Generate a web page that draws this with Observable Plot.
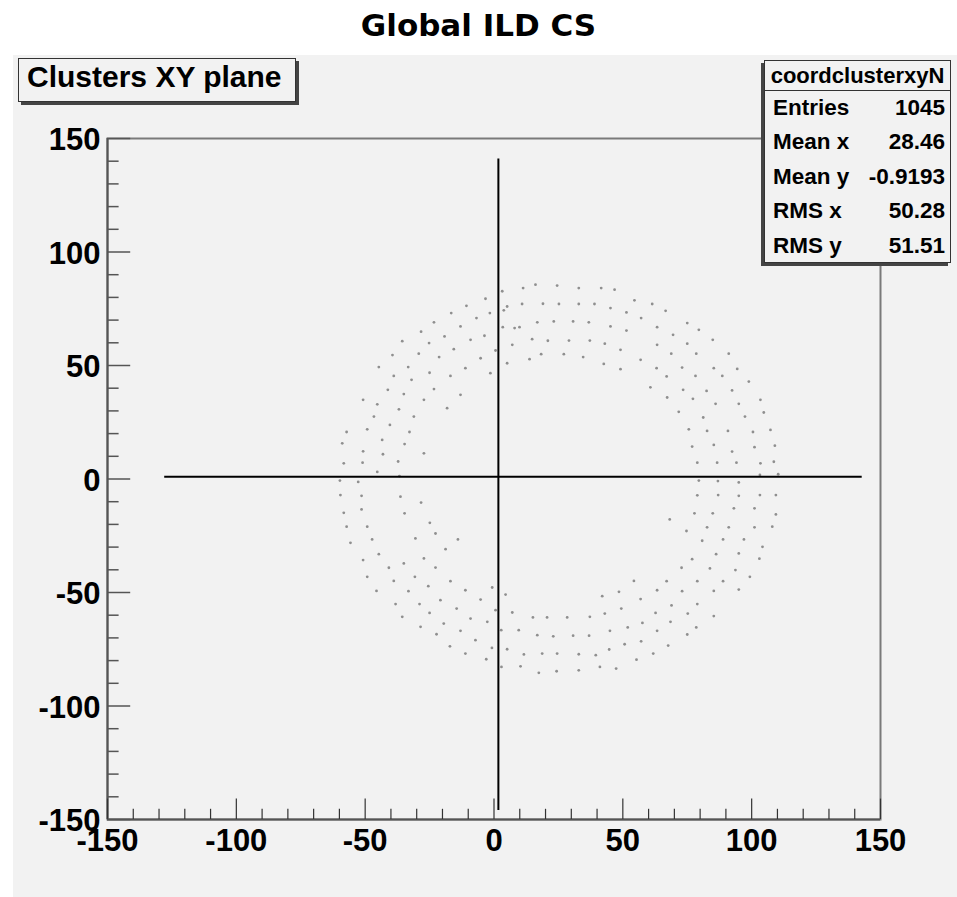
<!DOCTYPE html>
<html>
<head>
<meta charset="utf-8">
<script src="https://cdn.jsdelivr.net/npm/d3@7"></script>
<script src="https://cdn.jsdelivr.net/npm/@observablehq/plot@0.6"></script>
<style>
  html, body { margin: 0; padding: 0; background: #fff; }
  #page { position: relative; width: 957px; height: 897px; background: #fff; overflow: hidden; font-family: "Liberation Sans", Arial, Helvetica, sans-serif; }
  #title { position: absolute; left: 0; top: 10px; width: 957px; text-align: center; font-family: "DejaVu Sans", sans-serif; font-weight: bold; font-size: 31px; line-height: 31px; color: #000; }
  #pad { position: absolute; left: 13px; top: 55px; width: 944px; height: 842px; background: #f2f2f2; }
  #pad svg { display: block; }
  #histTitle { position: absolute; left: 18px; top: 58px; width: 278px; height: 44px; box-sizing: border-box; border: 1px solid #333; background: #f2f2f2; box-shadow: 3px 3px 0 #444; font-weight: bold; font-size: 30px; line-height: 36px; padding-left: 8px; color: #000; white-space: nowrap; }
  #stats { position: absolute; left: 764px; top: 60px; width: 187px; height: 203px; box-sizing: border-box; border: 1px solid #333; background: #f2f2f2; box-shadow: -3px 3px 0 #444; color: #000; font-weight: bold; }
  #stats .hdr { height: 30px; line-height: 30px; text-align: center; font-size: 22px; border-bottom: 1px solid #333; box-sizing: border-box; }
  #stats .row { height: 34.4px; line-height: 34.4px; font-size: 22.5px; display: flex; justify-content: space-between; padding: 0 5px 0 8px; }
</style>
</head>
<body>
<div id="page">
  <div id="title"></div>
  <div id="pad"></div>
  <div id="histTitle"></div>
  <div id="stats"></div>
</div>
<script>
// ---- texts ----
const pageTitle = "Global ILD CS";
const histTitle = "Clusters XY plane";
const statsName = "coordclusterxyN";
const statLabels = ["Entries", "Mean x", "Mean y", "RMS x", "RMS y"];
const statValues = ["1045", "28.46", "-0.9193", "50.28", "51.51"];

// ---- axes ----
const xDomain = [-150, 150];
const yDomain = [-150, 150];
const majorTicks = [-150, -100, -50, 0, 50, 100, 150];
const minorTicks = [-140, -130, -120, -110, -90, -80, -70, -60, -40, -30, -20, -10,
                    10, 20, 30, 40, 60, 70, 80, 90, 110, 120, 130, 140];

// ---- reference cross lines (data units) ----
const crossH = [{y: 1.0, x1: -127.8, x2: 142.9}];
const crossV = [{x: 1.7, y1: -146.0, y2: 141.0}];

// ---- cluster positions (x, y) ----
const upperLeft = [
  [-3.3,79.4],[-10.7,76.3],[-16.6,73.1],[-1.6,73.1],[-23.3,69.0],[-6.8,70.9],[-13.0,67.2],[-28.3,64.9],
  [-19.2,62.8],[-3.7,63.1],[-9.1,61.3],[-35.6,60.7],[-25.2,59.9],[-39.4,54.6],[-29.2,55.2],[-15.6,57.2],
  [-21.3,53.7],[-5.2,53.2],[-44.7,49.3],[-33.3,49.3],[-38.9,45.4],[-25.0,46.8],[-16.9,45.4],[-11.1,48.8],
  [-1.4,46.6],[-32.0,43.7],[-41.2,39.3],[-23.3,39.6],[-35.0,37.4],[-27.2,34.9],[-13.0,37.1],[-50.8,34.9],
  [-45.3,32.9],[-36.9,30.7],[-18.2,31.2],[-46.6,27.5],[-31.1,27.5],[-40.4,23.8],[-57.2,20.7],[-32.8,20.7],
  [-49.2,21.9],[-43.4,17.2],[-58.9,15.7],[-34.7,15.4],[-50.8,12.2],[-27.2,11.3],[-43.1,10.9],[-58.3,6.9],
  [-51.0,7.2],[-37.2,7.7],[-45.3,3.1],[-36.7,1.3],[-52.7,-1.3],[-59.8,-0.7]
];
const upperRight = [
  [3.2,82.7],[11.3,84.1],[16.1,85.6],[5.1,76.0],[10.9,77.1],[19.0,77.2],[3.8,74.3],[3.4,66.9],
  [8.0,66.5],[9.9,66.9],[16.8,69.0],[14.8,61.6],[7.1,59.1],[20.9,60.9],[18.3,55.0],[13.8,52.8],
  [5.1,51.0],[0.6,56.6],
  [24.5,85.2],[32.9,84.1],[41.6,84.1],[46.8,83.4],[25.2,77.1],[32.9,77.1],[39.0,77.1],[45.2,75.3],
  [54.5,78.7],[61.4,77.1],[51.4,73.4],[57.1,70.9],[66.6,74.1],[23.2,69.4],[30.7,69.4],[36.8,69.0],
  [45.2,67.2],[51.4,65.4],[63.3,66.9],[75.0,68.7],[79.5,65.7],[29.1,61.0],[37.2,61.0],[43.0,59.6],
  [49.1,56.9],[63.3,59.1],[69.5,63.5],[75.0,59.6],[84.9,61.3],[27.1,55.0],[34.6,53.7],[68.8,55.2],
  [78.5,55.2],[91.1,55.2],[42.6,50.7],[49.1,48.4],[56.9,52.5],[63.1,48.8],[73.0,49.1],[85.3,48.8],
  [94.4,48.5],[67.0,45.2],[78.2,45.4],[88.6,45.4],[98.9,42.9],[60.7,40.4],[73.4,39.3],[82.5,38.8],
  [92.4,39.0],[67.2,35.9],[77.2,35.3],[86.0,33.1],[95.0,33.1],[103.4,34.9],[104.7,29.3],[71.7,29.6],
  [81.2,27.1],[97.4,27.5],[75.6,21.9],[82.7,21.2],[90.8,21.2],[100.5,20.7],[107.3,21.6],[76.9,14.3],
  [85.3,15.0],[92.4,12.1],[101.1,14.0],[109.0,14.7],[78.9,7.2],[86.6,7.2],[94.1,7.2],[103.4,6.9],
  [108.6,7.6],[103.2,1.8],[110.3,2.1],[79.5,-0.7],[86.9,-0.9],[95.0,-1.5]
];
const lowerLeft = [
  [-59.6,-7.1],[-51.4,-7.4],[-36.3,-7.8],[-28.3,-10.4],[-51.4,-13.4],[-58.3,-14.9],[-34.7,-15.1],[-24.9,-19.3],
  [-57.2,-21.0],[-49.2,-21.0],[-22.7,-24.0],[-47.3,-26.6],[-30.5,-26.2],[-14.0,-26.6],[-55.7,-28.1],[-18.8,-30.9],
  [-44.7,-33.1],[-27.2,-35.0],[-50.8,-35.7],[-35.0,-37.2],[-22.7,-39.0],[-40.8,-39.1],[-49.2,-43.1],[-38.9,-44.9],
  [-30.7,-43.1],[-16.9,-45.0],[-45.6,-49.3],[-33.2,-49.4],[-25.5,-47.2],[-11.1,-49.0],[-0.7,-47.8],[-5.2,-53.1],
  [-20.8,-53.4],[-38.2,-55.1],[-28.9,-55.1],[-14.5,-57.1],[0.6,-57.8],[-35.6,-60.7],[-25.0,-59.0],[-9.1,-61.5],
  [-2.6,-62.9],[-19.5,-63.7],[-28.5,-65.1],[-13.0,-66.9],[-22.3,-68.4],[-7.2,-71.0],[-17.1,-73.7],[-11.1,-76.9],
  [-0.8,-74.4],[-3.0,-79.4]
];
const lowerRight = [
  [4.5,-50.9],[7.1,-58.8],[15.1,-61.0],[20.6,-61.0],[2.8,-66.6],[9.6,-66.6],[16.8,-68.8],[5.1,-75.0],
  [11.6,-77.3],[18.7,-76.9],[2.9,-82.8],[10.3,-82.5],[17.4,-85.4],
  [78.9,-7.2],[87.0,-7.1],[95.0,-7.4],[103.2,-7.1],[109.4,-7.1],[77.8,-15.1],[84.9,-15.1],[93.1,-12.9],
  [101.1,-12.9],[109.4,-15.6],[68.2,-17.8],[74.7,-22.9],[82.7,-21.3],[91.1,-21.3],[101.1,-21.3],[108.0,-21.0],
  [80.8,-27.2],[88.9,-26.6],[97.0,-26.6],[104.2,-29.9],[76.9,-35.3],[86.2,-33.1],[95.0,-32.8],[103.0,-35.1],
  [72.8,-39.1],[83.8,-39.4],[93.7,-40.1],[99.3,-43.1],[54.3,-44.9],[67.0,-45.0],[78.9,-45.0],[88.9,-45.0],
  [63.3,-49.0],[73.0,-49.4],[85.3,-49.3],[95.0,-48.7],[42.0,-51.6],[48.5,-49.7],[56.9,-52.9],[68.9,-55.7],
  [78.9,-55.1],[85.3,-60.4],[49.4,-57.1],[43.0,-59.3],[62.7,-59.0],[75.2,-59.3],[28.4,-61.0],[37.2,-60.7],
  [57.6,-63.4],[68.5,-62.9],[78.5,-65.4],[75.0,-68.5],[23.0,-69.3],[30.7,-69.0],[36.9,-69.0],[45.0,-66.9],
  [51.9,-65.4],[63.3,-66.9],[57.1,-71.5],[50.7,-72.8],[67.6,-73.4],[24.5,-76.9],[32.9,-77.2],[39.5,-77.6],
  [44.7,-75.1],[55.3,-79.6],[61.8,-76.9],[24.3,-84.7],[32.9,-84.3],[41.1,-82.8],[47.4,-83.5]
];

const clusters = [...upperLeft, ...upperRight, ...lowerLeft, ...lowerRight].map(([x, y]) => ({x, y}));

// ---- texts into the page ----
document.getElementById("title").textContent = pageTitle;
document.getElementById("histTitle").textContent = histTitle;
const stats = document.getElementById("stats");
const hdr = document.createElement("div");
hdr.className = "hdr";
hdr.textContent = statsName;
stats.appendChild(hdr);
statLabels.forEach((lab, i) => {
  const row = document.createElement("div");
  row.className = "row";
  const a = document.createElement("span"); a.textContent = lab;
  const b = document.createElement("span"); b.textContent = statValues[i];
  row.appendChild(a); row.appendChild(b);
  stats.appendChild(row);
});

const fmt = d => String(d);
const labelFont = {fontSize: 31, fontWeight: "bold", fontFamily: "'Liberation Sans', Arial, Helvetica, sans-serif"};

const chart = Plot.plot({
  width: 944,
  height: 842,
  marginLeft: 94,
  marginRight: 77,
  marginTop: 83,
  marginBottom: 78,
  x: {domain: xDomain},
  y: {domain: yDomain},
  style: {background: "#f2f2f2", color: "#000", overflow: "visible", fontFamily: "'Liberation Sans', Arial, sans-serif"},
  marks: [
    Plot.frame({stroke: "#7a7a7a", strokeWidth: 2}),
    Plot.ruleX([xDomain[0]], {stroke: "#555", strokeWidth: 2}),
    Plot.ruleY([yDomain[0]], {stroke: "#555", strokeWidth: 2}),
    // ticks pointing into the frame
    Plot.axisX(majorTicks, {anchor: "bottom", tickSize: -20.4, fill: "none", stroke: "#333", strokeWidth: 1.2, label: null}),
    Plot.axisX(minorTicks, {anchor: "bottom", tickSize: -10.2, fill: "none", stroke: "#333", strokeWidth: 1.2, label: null}),
    Plot.axisY(majorTicks, {anchor: "left", tickSize: -23.2, fill: "none", stroke: "#555", strokeWidth: 1.5, label: null}),
    Plot.axisY(minorTicks, {anchor: "left", tickSize: -11.6, fill: "none", stroke: "#555", strokeWidth: 1.5, label: null}),
    // tick labels
    Plot.axisX(majorTicks, {anchor: "bottom", tickSize: 0, tickPadding: 9, tickFormat: fmt, label: null, fill: "#000", ...labelFont}),
    Plot.axisY(majorTicks, {anchor: "left", tickSize: 0, tickPadding: 7, dy: 2, tickFormat: fmt, label: null, fill: "#000", ...labelFont}),
    // clusters
    Plot.dot(clusters, {x: "x", y: "y", r: 1.4, fill: "#8f8f8f", stroke: null}),
    // cross lines
    Plot.ruleY(crossH, {y: "y", x1: "x1", x2: "x2", stroke: "#000", strokeWidth: 2}),
    Plot.ruleX(crossV, {x: "x", y1: "y1", y2: "y2", stroke: "#000", strokeWidth: 2})
  ]
});
document.getElementById("pad").appendChild(chart);
</script>
</body>
</html>
